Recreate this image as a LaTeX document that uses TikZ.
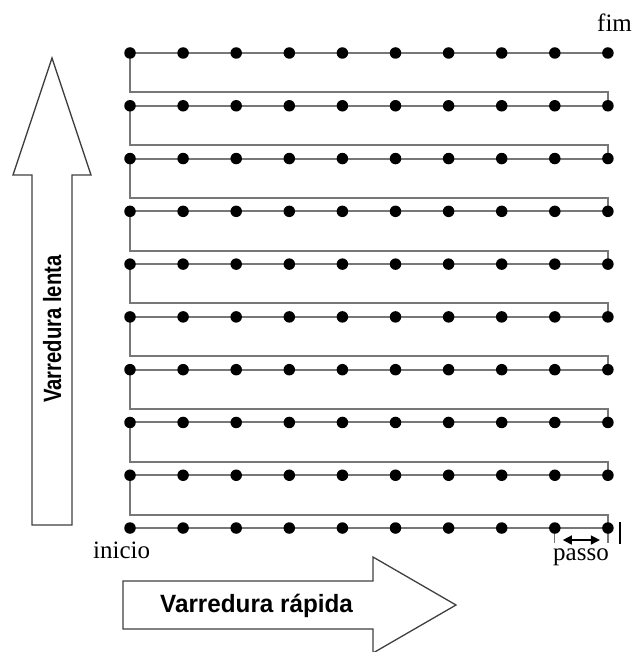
\documentclass[tikz,border=0pt]{standalone}
\usepackage{fontspec}
\setmainfont{Liberation Serif}
\newfontfamily\arialfont{Liberation Sans}
\usetikzlibrary{backgrounds,arrows.meta}
\definecolor{scangray}{HTML}{777777}
\definecolor{arrowgray}{HTML}{404040}
\begin{document}
\begin{tikzpicture}[x=1pt,y=-1pt,
  dot/.style={circle,fill=black,inner sep=0pt,minimum size=11.5pt},
  scan/.style={draw=scangray,line width=2pt},
  lbl/.style={inner sep=0pt,anchor=base west,font=\fontsize{25}{30}\selectfont},
  bigarrow/.style={draw=arrowgray,line width=1.3pt,fill=white},
  arrowtext/.style={inner sep=0pt,anchor=base west,font=\arialfont\bfseries\fontsize{25}{30}\selectfont}]
\useasboundingbox (0,0) rectangle (635,652);

% big arrows
\draw[bigarrow] (32,525) -- (32,175) -- (13,175) -- (52,58) -- (91,175) -- (72,175) -- (72,525) -- cycle;
\draw[bigarrow] (123,581) -- (373,581) -- (373,557) -- (456,605) -- (373,653) -- (373,629) -- (123,629) -- cycle;
\node[arrowtext] (rapida) at (160,612) {\scalebox{0.97}[1]{Varredura rápida}};
\node[arrowtext,rotate=90] (lenta) at (61,403) {\scalebox{0.81}[1]{Varredura lenta}};

% dots
\foreach \r in {0,...,9}{
  \foreach \c in {0,...,9}{
    \node[dot] (d-\r-\c) at ({130+53.1*\c},{53+52.78*\r}) {};
  }
}

% scan lines
\begin{scope}[on background layer]
  \foreach \r in {0,...,9}
    \draw[scan] (d-\r-0.center) -- (d-\r-9.center);
  \foreach \r [count=\s from 1] in {0,...,8}
    \draw[scan] (d-\s-9.center) -- ++(0,-13.5) -| (d-\r-0.center);
  \draw[scan,line width=1.3pt] (d-9-8.center) -- ++(0,15) coordinate (t1);
  \draw[scan,line width=1.3pt] (d-9-9.center) -- ++(0,15) coordinate (t2);
\end{scope}

% step marker
\draw[{Triangle[length=9pt,width=9pt]}-{Triangle[length=9pt,width=9pt]},line width=1.5pt]
  ([shift={(8,-3)}]t1) -- ([shift={(-8,-3)}]t2);
\draw[line width=2.5pt] (620,522) -- (620,544);

% labels
\node[lbl] (inicio) at (93,558) {inicio};
\node[lbl] (fim) at (597,32) {fim};
\node[lbl] (passo) at (553,560) {passo};
\end{tikzpicture}
\end{document}
